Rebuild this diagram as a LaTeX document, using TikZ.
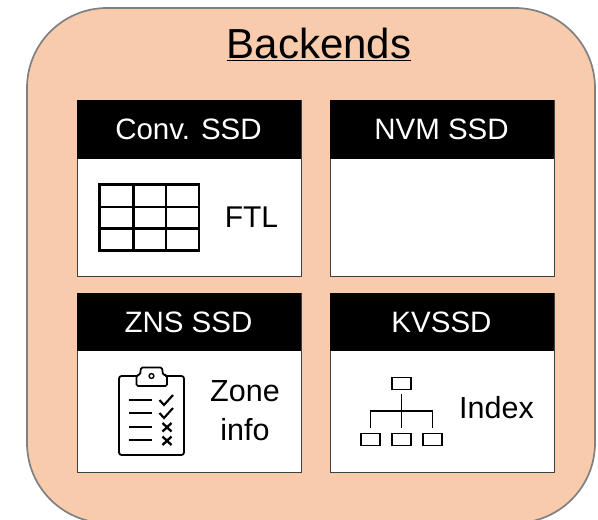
\documentclass[tikz,border=0pt]{standalone}
\usepackage{fontspec}
\setmainfont{Liberation Sans}
\definecolor{peach}{HTML}{F8CBAD}
\tikzset{
  x=1pt,y=-1pt,
  outerbox/.style={draw=black!50,fill=peach,line width=1.7pt,rounded corners=80pt},
  bodybox/.style={draw=black!75,fill=white,line width=0.9pt},
  lbl/.style={font=\fontsize{30.5}{39}\selectfont,align=center,inner sep=0pt},
  icon/.style={draw=black,line width=1.75pt},
  iconbold/.style={draw=black,line width=2.1pt},
  iconbox/.style={draw=black,line width=1.75pt,minimum width=19pt,minimum height=12pt,inner sep=0pt}
}
\begin{document}
\begin{tikzpicture}
\useasboundingbox (0,0) rectangle (598,520);
\clip (0,0) rectangle (598,520);
\draw[outerbox] (27,8) rectangle (595,523);
\node[inner sep=0pt,font=\fontsize{42}{46}\selectfont] (title) at (319,44) {\underline{Backends}};
% boxes
\foreach \n/\xa/\ya/\yb/\ym/\t in {a/77/100/276/159/Conv. SSD,b/330/100/276/159/NVM SSD,c/77/293/472/351/ZNS SSD,d/330/293/472/351/KVSSD}{
  \draw[bodybox] (\xa,\ya) rectangle ({\xa+224},\yb);
  \fill[black] (\xa,\ya) rectangle ({\xa+224},\ym);
  \node[text=white,font=\fontsize{29.5}{32}\selectfont,inner sep=0pt] (h\n) at ({\xa+111.5},{(\ya+\ym)/2}) {\t};
}
\node[lbl,font=\fontsize{30}{39}\selectfont] (ftl) at (251.5,217) {FTL};
\node[lbl] (zone) at (245,411) {Zone\\info};
\node[lbl] (index) at (496.5,408) {Index};
% FTL grid
\draw[iconbold] (99.5,184.5) rectangle (199,250.5);
\draw[iconbold] (99.5,207) -- (199,207) (99.5,228.5) -- (199,228.5) (133.5,184.5) -- (133.5,250.5) (166,184.5) -- (166,250.5);
% clipboard
\draw[icon,rounded corners=2.5pt] (138,376) -- (119,376) -- (119,455) -- (184,455) -- (184,376) -- (165,376);
\draw[icon,rounded corners=1.5pt] (136.5,386) -- (136.5,375) -- (140,375) -- (141,367.5) -- (162,367.5) -- (163,375) -- (167,375) -- (167,386) -- cycle;
\draw[icon,line width=1.4pt] (151.5,376) circle (2.4pt);
\draw[icon] (129,400) -- (152,400) (129,413) -- (152,413) (129,427) -- (152,427) (129,440) -- (152,440);
\draw[iconbold] (159.5,400) -- (164,405) -- (173,395) (159.5,413) -- (164,418) -- (173,408);
\draw[iconbold,line width=2.3pt] (162.5,423) -- (171.5,431.5) (171.5,423) -- (162.5,431.5) (162.5,436.5) -- (171.5,445) (171.5,436.5) -- (162.5,445);
% tree
\node[iconbox] (root) at (401.5,383.5) {};
\node[iconbox] (l1) at (370.5,439.5) {};
\node[iconbox] (l2) at (401.5,439.5) {};
\node[iconbox] (l3) at (432.5,439.5) {};
\coordinate (stemtop) at (401.5,394);
\coordinate (stembot) at (401.5,428);
\draw[icon] (stemtop) -- (stembot);
\draw[icon] (370.5,428) |- (432.5,411) -- (432.5,428);
\end{tikzpicture}
\end{document}
